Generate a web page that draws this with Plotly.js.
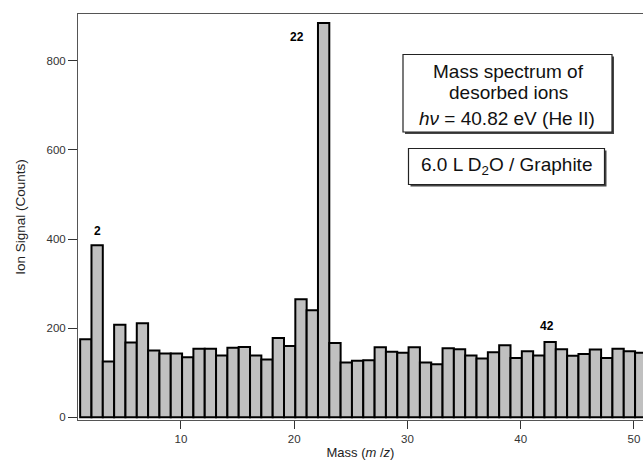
<!DOCTYPE html>
<html>
<head>
<meta charset="utf-8">
<script src="https://cdn.plot.ly/plotly-3.0.1.min.js"></script>
<style>html,body{margin:0;padding:0;background:#fff;}#chart{width:643px;height:461px;}</style>
</head>
<body>
<div id="chart"></div>
<script>
// Mass (m/z) of each histogram bin
const masses = [1,2,3,4,5,6,7,8,9,10,11,12,13,14,15,16,17,18,19,20,21,22,23,24,25,26,27,28,29,30,31,32,33,34,35,36,37,38,39,40,41,42,43,44,45,46,47,48,49,50];
// Ion signal (counts) per bin
const counts = [175,386,125,208,168,211,150,143,143,135,154,154,139,156,158,139,130,178,160,265,240,885,167,123,127,128,157,147,145,157,123,119,155,153,139,132,146,162,133,148,139,169,153,138,142,152,133,154,148,145];
// Peak labels
const peakLabels = ["2", "22", "42"];
const peakLabelX = [2.61, 20.24, 42.32];
const peakLabelY = [418, 854, 204];
const xTicks = [10, 20, 30, 40, 50];
const yTicks = [0, 200, 400, 600, 800];

const font = "Liberation Sans, Arial, Helvetica, sans-serif";

const trace = {
  type: 'bar',
  x: masses,
  y: counts,
  width: 1,
  offset: 0.1,
  marker: {color: '#c0c0c0', line: {color: '#000', width: 2}},
  hoverinfo: 'x+y'
};

const annotations = peakLabels.map((t, i) => ({
  x: peakLabelX[i], y: peakLabelY[i], xref: 'x', yref: 'y',
  text: '<b>' + t + '</b>', showarrow: false,
  font: {family: font, size: 12, color: '#000'}
}));

// text box annotations (paper coords)
const W = 643, H = 461, L = 78, R = 0, T = 14, B = 41;
const pw = W - L - R, ph = H - T - B;
function px(x){ return (x - L) / pw; }
function py(y){ return 1 - (y - T) / ph; }

const boxText = [
  {t: 'Mass spectrum of', x: 508, y: 72},
  {t: 'desorbed ions', x: 508, y: 92},
  {t: '<i>hν</i> = 40.82 eV (He II)', x: 507, y: 119},
  {t: '6.0 L D<sub>2</sub>O / Graphite', x: 506, y: 166}
];
boxText.forEach(b => annotations.push({
  xref: 'paper', yref: 'paper', x: px(b.x), y: py(b.y),
  xanchor: 'center', yanchor: 'middle', text: b.t, showarrow: false,
  font: {family: font, size: 19, color: '#111'}
}));

const shapes = [
  {type: 'rect', xref: 'paper', yref: 'paper', x0: px(405), x1: px(614), y0: py(56.5), y1: py(134), line: {width: 0}, fillcolor: '#444', layer: 'above'},
  {type: 'rect', xref: 'paper', yref: 'paper', x0: px(403), x1: px(612), y0: py(54.5), y1: py(132), line: {color: '#222', width: 1.2}, fillcolor: '#fff', layer: 'above'},
  {type: 'rect', xref: 'paper', yref: 'paper', x0: px(410.5), x1: px(606.5), y0: py(150.5), y1: py(186.5), line: {width: 0}, fillcolor: '#444', layer: 'above'},
  {type: 'rect', xref: 'paper', yref: 'paper', x0: px(408.5), x1: px(604.5), y0: py(148.5), y1: py(184.5), line: {color: '#222', width: 1.2}, fillcolor: '#fff', layer: 'above'}
];

const layout = {
  width: W, height: H,
  margin: {l: L, r: R, t: T, b: B, pad: 0},
  paper_bgcolor: '#fff', plot_bgcolor: '#fff',
  showlegend: false,
  bargap: 0,
  font: {family: font, size: 11, color: '#333'},
  xaxis: {
    range: [0.91, 50.8],
    tickvals: xTicks, ticktext: xTicks.map(String),
    ticks: 'outside', ticklen: 8, tickwidth: 1, tickcolor: '#333',
    showline: true, linecolor: '#555', linewidth: 1, mirror: true,
    showgrid: false, zeroline: false,
    tickfont: {family: font, size: 11.5, color: '#333'},
    title: {text: 'Mass (<i>m</i> /<i>z</i>)', font: {family: font, size: 13, color: '#222'}, standoff: 4}
  },
  yaxis: {
    range: [-6, 905],
    tickvals: yTicks, ticktext: yTicks.map(String),
    ticks: 'outside', ticklen: 9, tickwidth: 1, tickcolor: '#333',
    showline: true, linecolor: '#555', linewidth: 1,
    showgrid: false, zeroline: false,
    tickfont: {family: font, size: 11.5, color: '#333'},
    title: {text: 'Ion Signal (Counts)', font: {family: font, size: 13.5, color: '#222'}, standoff: 17}
  },
  annotations: annotations,
  shapes: shapes
};

Plotly.newPlot('chart', [trace], layout, {displayModeBar: false, staticPlot: true});
</script>
</body>
</html>
